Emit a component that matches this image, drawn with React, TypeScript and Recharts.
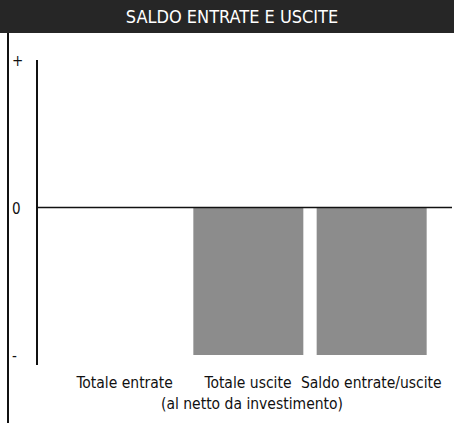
import React from 'react'
import { BarChart, Bar, XAxis, YAxis, ReferenceLine } from 'recharts'

const categories = ['Totale entrate', 'Totale uscite', 'Saldo entrate/uscite']
const subLabels = ['', '(al netto da investimento)', '']
const saldo = [0, -1, -1]
const yTicks = [1, 0, -1]
const yTickLabels: Record<string, string> = { '1': '+', '0': '0', '-1': '-' }

const data = categories.map((name, i) => ({ name, value: saldo[i] }))

const FONT = '"Liberation Sans Narrow", "DejaVu Sans Condensed", "Liberation Sans", Arial, sans-serif'

const YTick = (props: any) => {
  const { y, payload } = props
  return (
    <text x={12} y={y} dy={6} fontSize={15} fontFamily={FONT} fill="#111">
      {yTickLabels[String(payload.value)]}
    </text>
  )
}

const XTick = (props: any) => {
  const { x, y, payload, index } = props
  return (
    <g>
      <text x={x} y={y + 25} textAnchor="middle" fontSize={15.5} fontFamily={FONT} fill="#111">
        {payload.value}
      </text>
      {subLabels[index] ? (
        <text x={x + 4} y={y + 46} textAnchor="middle" fontSize={15.5} fontFamily={FONT} fill="#111">
          {subLabels[index]}
        </text>
      ) : null}
    </g>
  )
}

export default function App() {
  return (
    <div style={{ position: 'absolute', left: 0, top: 0, width: 454, height: 423, background: '#fff', overflow: 'hidden' }}>
      {/* title bar */}
      <div
        style={{
          position: 'absolute', left: 0, top: 0, width: 454, height: 33,
          background: '#262626', color: '#fff', fontFamily: FONT, fontSize: 18,
          lineHeight: '33px', textAlign: 'center', paddingLeft: 10, boxSizing: 'border-box'
        }}
      >
        SALDO ENTRATE E USCITE
      </div>
      {/* left frame line */}
      <div style={{ position: 'absolute', left: 7, top: 33, width: 2, height: 390, background: '#111' }} />
      <div style={{ position: 'absolute', left: 0, top: 33 }}>
        <BarChart
          width={454}
          height={390}
          data={data}
          margin={{ top: 27, right: 2, bottom: 8, left: 0 }}
          barSize={110}
        >
          <YAxis
            domain={[-1, 1]}
            ticks={yTicks}
            width={37}
            tickLine={false}
            axisLine={{ stroke: '#111', strokeWidth: 2 }}
            tick={<YTick />}
          />
          <XAxis
            dataKey="name"
            height={60}
            axisLine={false}
            tickLine={false}
            padding={{ left: 26, right: 19 }}
            tick={<XTick />}
            interval={0}
          />
          <Bar dataKey="value" fill="#8c8c8c" isAnimationActive={false} />
          <ReferenceLine y={0} stroke="#111" strokeWidth={1.5} />
        </BarChart>
      </div>
      {/* axis line runs a little past the last tick */}
      <div style={{ position: 'absolute', left: 36, top: 350, width: 2, height: 15, background: '#111' }} />
    </div>
  )
}
